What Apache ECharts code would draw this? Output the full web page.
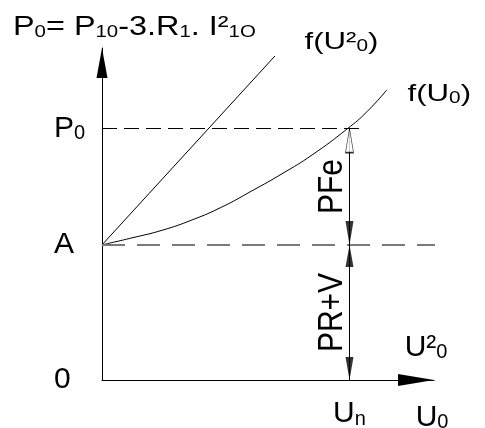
<!DOCTYPE html>
<html>
<head>
<meta charset="utf-8">
<script src="https://cdn.jsdelivr.net/npm/echarts@6/dist/echarts.min.js"></script>
<style>
  html, body { margin: 0; padding: 0; background: #fff; }
  #chart { width: 485px; height: 428px; }
</style>
</head>
<body>
<div id="chart"></div>
<script>
// both axes run 0..100
const levelA = 40.7;    // P0 at U0 = 0 (point A)
const levelP0 = 75.75;  // P0 at Un
const un = 74.55;       // Un on the U0 axis

// f(U²0) straight line
const lineU2x = [0, 52.1];
const lineU2y = [40.7, 97.6];

// f(U0) curve
const curveX = [0, 9.0, 18.1, 27.1, 36.1, 45.2, 54.2, 63.3, 73.8, 79.8, 85.8];
const curveY = [40.7, 42.8, 45.1, 48.2, 52.1, 57.0, 62.1, 67.8, 75.6, 80.8, 87.4];

// dashed guide lines end here
const p0LineEnd = 78.3;
const aLineEnd = 103.3;

// tick labels
const yTicks = [0, levelA, levelP0];
const yTickLabels = ['{z|0}', '{a|A}', '{b|P}{s|0}'];
const xTicks = [un];
const xTickLabels = ['{b|U}{s|n}'];

const FONT = 'Liberation Sans, Arial, sans-serif';

// main + subscript styles sharing one baseline
const richStyles = (main, sub) => ({
  b: { fontSize: main, lineHeight: main, verticalAlign: 'bottom', fontFamily: FONT, color: '#000' },
  s: { fontSize: sub, lineHeight: 2 * (0.19 * main + 0.31 * sub), verticalAlign: 'bottom', fontFamily: FONT, color: '#000' }
});
const big = richStyles(30, 20);

const text = (x, y, str, rich, extra = {}) => ({
  type: 'text',
  x, y,
  silent: true,
  ...extra,
  style: { text: str, rich, align: extra.align || 'left', verticalAlign: 'middle', fill: '#000', font: '30px ' + FONT }
});

const pairs = (xs, ys) => xs.map((x, i) => [x, ys[i]]);

const blackLine = { color: '#000', width: 1 };

const options = {
  animation: false,
  backgroundColor: '#fff',
  grid: { left: 102, right: 51, top: 48, bottom: 48, containLabel: false, outerBoundsMode: 'none' },
  xAxis: {
    type: 'value', min: 0, max: 100,
    axisLine: { show: true, onZero: true, lineStyle: blackLine, symbol: ['none', 'triangle'], symbolSize: [12, 36], symbolOffset: [0, -18] },
    axisTick: { show: false },
    splitLine: { show: false },
    axisLabel: {
      customValues: xTicks,
      margin: 19,
      formatter: v => xTickLabels[xTicks.indexOf(v)] || '',
      rich: big
    }
  },
  yAxis: {
    type: 'value', min: 0, max: 100,
    axisLine: { show: true, lineStyle: blackLine, symbol: ['none', 'triangle'], symbolSize: [11, 30], symbolOffset: [0, -15] },
    axisTick: { show: false },
    splitLine: { show: false },
    axisLabel: {
      customValues: yTicks,
      margin: 48,
      align: 'left',
      formatter: v => yTickLabels[yTicks.indexOf(v)] || '',
      rich: {
        ...big,
        a: { ...big.b, padding: [5, 0, 0, 0] },
        z: { ...big.b, padding: [9, 0, 0, 0] }
      }
    }
  },
  series: [
    {
      name: 'f(U²0)', type: 'line', data: pairs(lineU2x, lineU2y),
      symbol: 'none', lineStyle: blackLine, silent: true
    },
    {
      name: 'f(U0)', type: 'line', data: pairs(curveX, curveY), smooth: true,
      symbol: 'none', lineStyle: blackLine, silent: true
    },
    {
      name: 'P0 level', type: 'line', data: [[0, levelP0], [p0LineEnd, levelP0]],
      symbol: 'none', lineStyle: { color: '#000', width: 1, type: [15, 7] }, silent: true
    },
    {
      name: 'A level', type: 'line', data: [[0, levelA], [aLineEnd, levelA]], clip: false,
      symbol: 'none', lineStyle: { color: '#7a7a7a', width: 2, type: [23, 12] }, silent: true
    },
    {
      name: 'Un', type: 'line', data: [[un, 0], [un, levelP0]],
      symbol: 'none', lineStyle: blackLine, silent: true
    },
    {
      name: 'arrows', type: 'scatter', silent: true, z: 5,
      symbol: 'triangle',
      itemStyle: { color: '#000' },
      data: [
        { value: [un, levelP0], symbolSize: [8, 24], symbolOffset: [0, 12], itemStyle: { color: '#fff', borderColor: '#000', borderWidth: 1 } },
        { value: [un, levelA], symbolSize: [8, 24], symbolRotate: 180, symbolOffset: [0, -12] },
        { value: [un, levelA], symbolSize: [8, 22], symbolOffset: [0, 11] },
        { value: [un, 0], symbolSize: [8, 23], symbolRotate: 180, symbolOffset: [0, -11.5] }
      ]
    }
  ],
  graphic: [
    text(13, 27.5, '{b|P}{s|0}{b|= P}{s|10}{b|-3.R}{s|1}{b|. I²}{s|1O}', richStyles(27, 17), { scaleX: 1.2 }),
    text(304.5, 42.6, '{b|f(U²}{s|0}{b|)}', richStyles(24, 16), { scaleX: 1.3 }),
    text(407.5, 94.2, '{b|f(U}{s|0}{b|)}', richStyles(24, 16), { scaleX: 1.3 }),
    text(404.7, 347.7, '{b|U²}{s|0}', big),
    text(415.7, 417.7, '{b|U}{s|0}', big),
    text(332, 186.5, '{b|PFe}', big, { rotation: Math.PI / 2, scaleY: 1.16, align: 'center' }),
    text(332, 312.5, '{b|PR+V}', big, { rotation: Math.PI / 2, scaleY: 1.16, align: 'center' })
  ]
};

const chart = echarts.init(document.getElementById('chart'), null, { renderer: 'canvas' });
chart.setOption(options, true);
</script>
</body>
</html>
